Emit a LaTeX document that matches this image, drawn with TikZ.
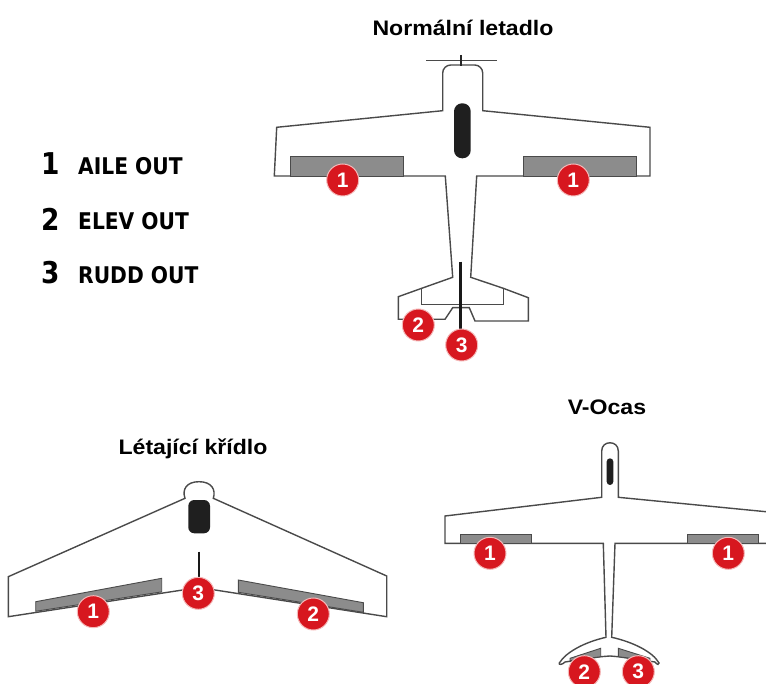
\documentclass[tikz,border=0pt]{standalone}
\usepackage{fontspec}
\setmainfont{Liberation Sans}
\newfontfamily\titlefont[FakeStretch=1.1]{Liberation Sans Bold}
\newfontfamily\legendfont[FakeStretch=0.88]{DejaVu Sans Bold}
\newfontfamily\badgefont{Liberation Sans Bold}
\definecolor{outline}{HTML}{4A4A4A}
\definecolor{surface}{HTML}{8C8C8C}
\definecolor{badgered}{HTML}{D7171F}
\definecolor{badgering}{HTML}{F4B8B8}
\begin{document}
\begin{tikzpicture}[x=1pt,y=-1pt,
  body/.style={draw=outline,line width=1.4pt,line join=miter,fill=white},
  ctrl/.style={draw=outline,line width=0.9pt,fill=surface},
  hinge/.style={draw=outline,line width=1.4pt},
  canopy/.style={fill=black!88},
  rudderline/.style={draw=black!90,line width=3pt},
  badge/.style={circle,fill=badgered,draw=badgering,line width=1pt,
    minimum size=32pt,inner sep=0pt,text=white,
    font=\badgefont\fontsize{21}{21}\selectfont},
  title/.style={font=\titlefont\fontsize{21}{21}\selectfont,anchor=base},
  legnum/.style={font=\legendfont\fontsize{30}{30}\selectfont,anchor=base west,inner sep=0pt},
  legtext/.style={font=\legendfont\fontsize{23}{23}\selectfont,anchor=base west,inner sep=0pt}]
\useasboundingbox (0,0) rectangle (766,684);

% ---------- titles ----------
\node[title] (t1) at (463,36) {Normální letadlo};
\node[title] (t2) at (193,455) {Létající křídlo};
\node[title] (t3) at (607,415) {V-Ocas};

% ---------- legend ----------
\node[legnum]  (n1) at (41,175)   {1};
\node[legtext] (l1) at (78,174.3) {AILE OUT};
\node[legnum]  (n2) at (41,230.5) {2};
\node[legtext] (l2) at (78,230)   {ELEV OUT};
\node[legnum]  (n3) at (41,284)   {3};
\node[legtext] (l3) at (78,283.3) {RUDD OUT};

% ---------- conventional airplane ----------
\draw[body] (442.7,110.7) [rounded corners=8pt] -- (442.7,65) -- (482.7,65)
  [sharp corners] -- (482.7,110.7) -- (650,127.3) -- (650,176) -- (476.7,176)
  -- (470.7,277.3) -- (503.3,288.3) -- (528.3,297.7) -- (528.3,321)
  -- (475,321) -- (469.3,307.7) -- (452.7,307.7) -- (445,319.3)
  -- (398.3,319.3) -- (398.3,296.7) -- (421.7,288.3) -- (452.7,277.3)
  -- (445.3,176) -- (274.3,176) -- (276.7,127.3) -- cycle;
% propeller
\draw[draw=outline,line width=1.3pt] (426,60.7) -- (497,60.7);
\draw[draw=black!85,line width=1.6pt] (461,55) -- (461,66);
% elevator hinge line
\draw[hinge] (421.7,288.3) -- (421.7,304.3) -- (503.3,304.3) -- (503.3,288.3);
% ailerons
\draw[ctrl] (290,156.7) rectangle (403.3,176);
\draw[ctrl] (523.3,156.7) rectangle (636.7,176);
% cockpit and rudder
\fill[canopy,rounded corners=8pt] (454,103.3) rectangle (470.7,158.3);
\draw[rudderline] (460,261.7) -- (460,330);
\node[badge] (a1l) at (342.7,180) {1};
\node[badge] (a1r) at (573.3,180) {1};
\node[badge] (a2)  at (418.3,325) {2};
\node[badge] (a3)  at (461.7,345) {3};

% ---------- flying wing ----------
\draw[body] (8.3,576.7) -- (185,498.3)
  .. controls (182,490) and (186,481.7) .. (199,481.7)
  .. controls (212,481.7) and (216,490) .. (213.3,498.3)
  -- (386.7,576) -- (386.7,616.7) -- (199,587.5) -- (8.3,616.7) -- cycle;
\draw[ctrl] (35.7,601.7) -- (161.7,578.3) -- (161.7,591.9) -- (35.7,611.3) -- cycle;
\draw[ctrl] (238.3,580) -- (363.3,602.7) -- (363.3,612.3) -- (238.3,592.3) -- cycle;
\fill[canopy,rounded corners=6pt] (188.3,500) rectangle (210,533.3);
\draw[draw=black!90,line width=2.2pt] (199.3,551.7) -- (199.3,576.7);
\node[badge] (w1) at (93.3,611.7) {1};
\node[badge] (w3) at (198.3,593.3) {3};
\node[badge] (w2) at (313.3,614) {2};

% ---------- V-tail glider ----------
\draw[body] (601.7,497.3) -- (601.7,451)
  .. controls (601.7,440) and (618.3,440) .. (618.3,451)
  -- (618.3,497.3) -- (772,512.3) -- (772,543.3) -- (615,543.3)
  -- (611.7,637.3)
  .. controls (633,642) and (653,652) .. (659,663)
  .. controls (659.5,665) and (657,665) .. (655,662)
  -- (618.3,656.7) -- (610,656) -- (600.7,656.7) -- (565,662)
  .. controls (562,665) and (558.5,665) .. (559.3,663)
  .. controls (566,652) and (585,642) .. (606,637.3)
  -- (603.3,543.3) -- (445,543.3) -- (445,516) -- cycle;
\draw[ctrl] (460.7,534) rectangle (531.7,543.3);
\draw[ctrl] (687.3,534) rectangle (758.3,543.3);
\draw[ctrl] (570,658.3) -- (600.7,648.3) -- (600.7,656.7) -- (570,660.8) -- cycle;
\draw[ctrl] (618.3,648.3) -- (650,658.3) -- (650,660.8) -- (618.3,656.7) -- cycle;
\fill[canopy,rounded corners=3.3pt] (606.7,458.3) rectangle (613.3,485);
\node[badge] (v1l) at (490,553.3) {1};
\node[badge] (v1r) at (728.3,553.3) {1};
\node[badge] (v2)  at (584.3,671.7) {2};
\node[badge] (v3)  at (638.3,671.7) {3};
\end{tikzpicture}
\end{document}
